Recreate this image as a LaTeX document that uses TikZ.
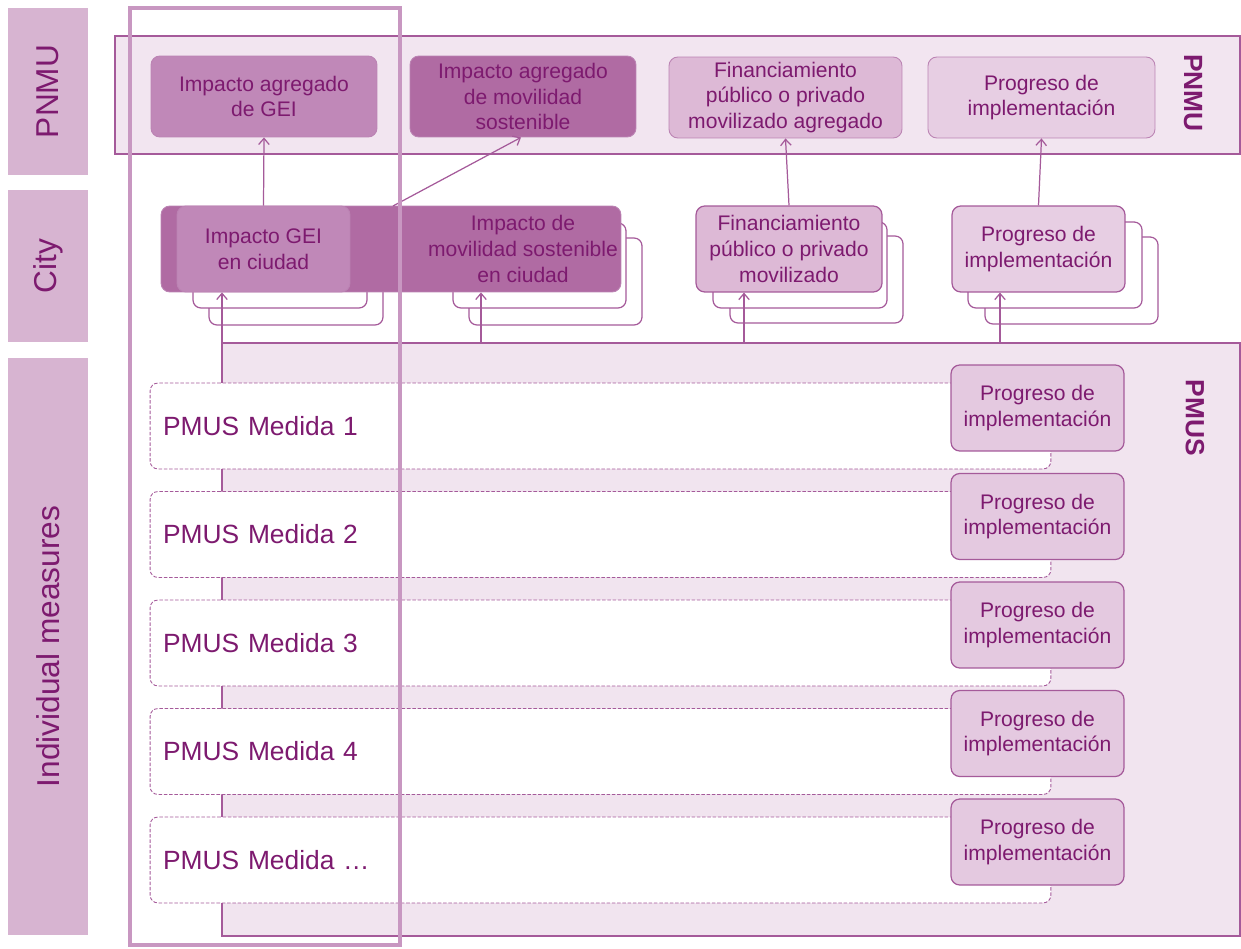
\documentclass[tikz,border=0pt]{standalone}
\usepackage{fontspec}
\setmainfont{Liberation Sans}
\usepackage{xcolor}
\usetikzlibrary{arrows.meta}

\definecolor{txtc}{HTML}{7D1A6F}
\definecolor{edgec}{HTML}{A55A9A}
\definecolor{lblc}{HTML}{D7B4D1}
\definecolor{bandc}{HTML}{F2E5F0}
\definecolor{panelc}{HTML}{F1E4EF}
\definecolor{cmid}{HTML}{C088B8}
\definecolor{cdark}{HTML}{B06BA3}
\definecolor{clight}{HTML}{DDB9D6}
\definecolor{cpale}{HTML}{E7CEE3}
\definecolor{progc}{HTML}{E4C9E0}
\definecolor{framec}{HTML}{C897C1}

\tikzset{
  sidelbl/.style={fill=lblc, rotate=90, minimum height=1.6cm, inner sep=0pt,
    text=txtc, font=\fontsize{18}{20}\selectfont},
  sidebold/.style={text=txtc, font=\fontsize{15}{18}\selectfont\bfseries, inner sep=0pt},
  box/.style={draw=edgec!75, line width=0.5pt, rounded corners=5pt, inner sep=0pt,
    align=center, text=txtc, font=\fontsize{12}{14.7}\selectfont},
  copybox/.style={draw=edgec, fill=white, line width=0.7pt, rounded corners=4.5pt},
  medbox/.style={draw=edgec, dash pattern=on 2pt off 1pt, line width=0.5pt, fill=white,
    rounded corners=4.5pt, minimum width=18.02cm, minimum height=1.72cm,
    text width=17.5cm, inner xsep=0.26cm, inner ysep=0pt, align=left,
    text=txtc, font=\fontsize{15}{18}\selectfont},
  progbox/.style={box, draw=edgec, line width=0.7pt, fill=progc,
    minimum width=3.46cm, minimum height=1.72cm},
  arr/.style={draw=edgec, line width=0.7pt, -{Straight Barb[length=3.5pt,width=6pt]}},
  frame/.style={draw=framec, line width=2.8pt}
}

\begin{document}
\begin{tikzpicture}[x=0.02cm, y=-0.02cm]
\useasboundingbox (0,0) rectangle (1241,949);

% level labels on the left
\node[sidelbl, minimum width=3.34cm] (lpnmu) at (48,91.5) {PNMU};
\node[sidelbl, minimum width=3.04cm] (lcity) at (48,266) {City};
\node[sidelbl, minimum width=11.54cm] (lind) at (48,646.5) {Individual measures};

% national band
\draw[edgec, fill=bandc, line width=0.7pt] (115,36) rectangle (1240,154);
\node[sidebold, rotate=-90] (rpnmu) at (1193,93) {PNMU};

\node[box, fill=cmid, minimum width=4.52cm, minimum height=1.62cm] (topgei) at (264,96.5) {Impacto agregado\\de GEI};
\node[box, fill=cdark, minimum width=4.52cm, minimum height=1.62cm] (topmov) at (523,96.5) {Impacto agregado\\de movilidad\\sostenible};
\node[box, fill=clight, minimum width=4.66cm, minimum height=1.62cm] (topfin) at (785.5,97.5) {Financiamiento\\público o privado\\movilizado agregado};
\node[box, fill=cpale, minimum width=4.54cm, minimum height=1.62cm] (topprog) at (1041.5,97.5) {Progreso de\\implementación};

% city level, stacked copies first
\draw[copybox] (209,239) rectangle (383,325);
\draw[copybox] (193,223) rectangle (367,308);
\draw[copybox] (469,238) rectangle (642,325);
\draw[copybox] (453,223) rectangle (626,308);
\draw[copybox] (730,236) rectangle (903,323);
\draw[copybox] (713,222) rectangle (887,308);
\draw[copybox] (985,237) rectangle (1158,324);
\draw[copybox] (968,222) rectangle (1142,308);

\node[box, fill=cdark, minimum width=9.2cm, minimum height=1.72cm] (citymov) at (391,249) {};
\node[box, draw=none] (citymovtxt) at (523,249) {Impacto de\\movilidad sostenible\\en ciudad};
\node[box, fill=cmid, minimum width=3.46cm, minimum height=1.72cm] (citygei) at (263.5,249) {Impacto GEI\\en ciudad};
\node[box, draw=edgec, line width=0.7pt, fill=clight, minimum width=3.72cm, minimum height=1.72cm] (cityfin) at (789,249) {Financiamiento\\público o privado\\movilizado};
\node[box, draw=edgec, line width=0.7pt, fill=cpale, minimum width=3.46cm, minimum height=1.72cm] (cityprog) at (1038.5,249) {Progreso de\\implementación};

\coordinate (movfoot) at (393,206);
\draw[arr] (citygei.north) -- (topgei.south);
\draw[arr] (movfoot) -- ([xshift=-0.04cm]topmov.south);
\draw[arr] (cityfin.north) -- (topfin.south);
\draw[arr] (cityprog.north) -- (topprog.south);

% measures panel
\draw[edgec, fill=panelc, line width=0.7pt] (222,343) rectangle (1240,936);
\node[sidebold, rotate=-90] (rpmus) at (1195,418) {PMUS};

\foreach \x/\n in {222/gei, 481/mov, 744/fin, 1000/prog} {
  \coordinate (up\n) at (\x,343);
  \draw[arr] (up\n) -- (city\n.south -| up\n);
}

\foreach \lbl [count=\i from 0] in {1,2,3,4,…} {
  \node[medbox] (med\i) at (600.5,426+108.5*\i) {PMUS Medida \lbl};
  \node[progbox] (prog\i) at (1037.5,408+108.5*\i) {Progreso de\\implementación};
}

% highlight frame
\draw[frame] (130,8) rectangle (400,945);
\end{tikzpicture}
\end{document}
